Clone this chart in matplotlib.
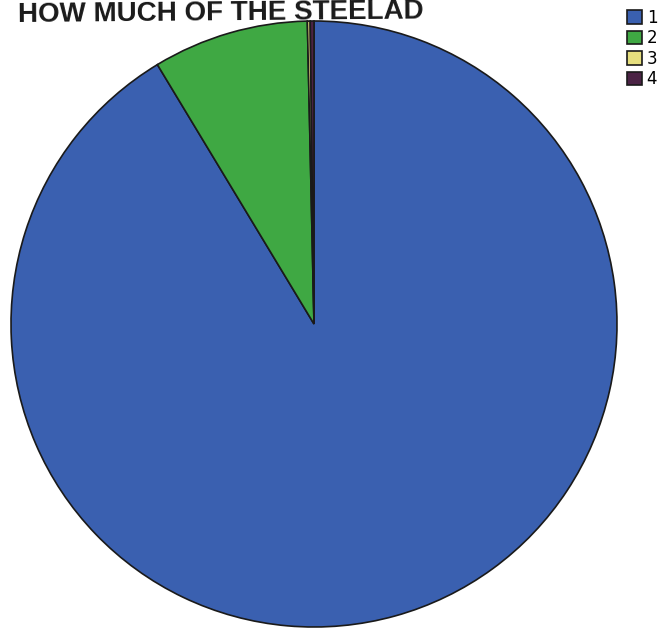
import matplotlib
matplotlib.use("Agg")
import matplotlib.pyplot as plt
from matplotlib.patches import Patch

categories = ["1", "2", "3", "4"]
values = [91.4, 8.3, 0.15, 0.2]
colors = ["#3a60b0", "#3fa843", "#e6df7e", "#4b2345"]
title = "HOW MUCH OF THE STEELAD"

W, H = 669, 635
fig = plt.figure(figsize=(W / 100, H / 100), dpi=100)
fig.patch.set_facecolor("white")

cx, cy, r = 314, 324, 303
ax = fig.add_axes([(cx - r) / W, 1 - (cy + r) / H, 2 * r / W, 2 * r / H])
ax.pie(values, colors=colors, startangle=90, counterclock=False,
       wedgeprops=dict(edgecolor="#1a1a1a", linewidth=1.2))
ax.set_xlim(-1, 1)
ax.set_ylim(-1, 1)
ax.set_aspect("auto")
ax.axis("off")

fig.text(18 / W, 1 - 22 / H, title, fontsize=20, fontweight="bold",
         color="#1a1a1a", ha="left", va="baseline", rotation=0.5,
         family="Liberation Sans")

handles = [Patch(facecolor=c, edgecolor="#1a1a1a", linewidth=1.2) for c in colors]
fig.legend(handles, categories, loc="upper left", bbox_to_anchor=(620 / W, 1 - 2 / H),
           frameon=False, fontsize=12, handlelength=0.9, handleheight=0.9,
           handletextpad=0.3, labelspacing=0.15, borderaxespad=0)

fig.savefig("out.png", dpi=100, facecolor="white")
